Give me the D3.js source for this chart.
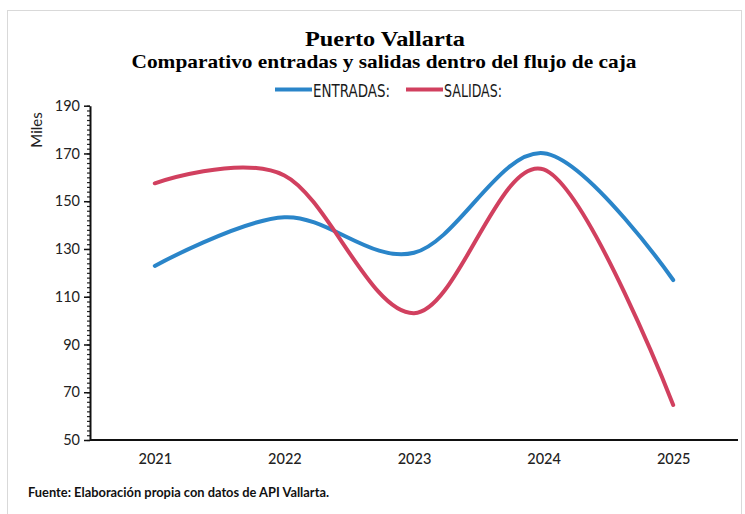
<!DOCTYPE html>
<html><head><meta charset="utf-8">
<script src="https://cdn.jsdelivr.net/npm/d3@7"></script>
<style>body{margin:0;background:#fff}svg{display:block}</style>
</head><body>
<script>
const years = ["2021","2022","2023","2024","2025"];
const entradas = [122.9,143.3,128.4,170.1,117.0];
const salidas = [157.5,160.8,103.1,163.3,64.7];
const yTicks = [50,70,90,110,130,150,170,190];
const seriesNames = ["ENTRADAS:","SALIDAS:"];
const colors = ["#2a85c9","#d1405f"];

const W=745,H=514;
const svg=d3.select("body").append("svg").attr("width",W).attr("height",H);
svg.append("rect").attr("x",7.5).attr("y",10.5).attr("width",734).attr("height",520)
  .attr("fill","#fff").attr("stroke","#d9d9d9").attr("stroke-width",1);

const x=d3.scalePoint().domain(years).range([90,738]).padding(0.5);
const y=d3.scaleLinear().domain([50,190]).range([440,105.7]);

// titles
svg.append("text").attr("x",385).attr("y",46).attr("text-anchor","middle")
  .attr("font-family","Liberation Serif").attr("font-weight","bold").attr("font-size",22)
  .attr("textLength",160).attr("lengthAdjust","spacingAndGlyphs").text("Puerto Vallarta");
svg.append("text").attr("x",384).attr("y",67.5).attr("text-anchor","middle")
  .attr("font-family","Liberation Serif").attr("font-weight","bold").attr("font-size",19)
  .attr("textLength",505).attr("lengthAdjust","spacingAndGlyphs").text("Comparativo entradas y salidas dentro del flujo  de caja");

// legend
const leg=[{x1:275,x2:312,tx:313,tw:77},{x1:406,x2:443,tx:444,tw:58}];
leg.forEach((l,i)=>{
  svg.append("line").attr("x1",l.x1).attr("x2",l.x2).attr("y1",89.5).attr("y2",89.5)
    .attr("stroke",colors[i]).attr("stroke-width",4);
  svg.append("text").attr("x",l.tx).attr("y",96.5).attr("font-family","Liberation Sans Narrow, DejaVu Sans Condensed, sans-serif")
    .attr("font-size",17.5).attr("fill","#1a1a1a").attr("textLength",l.tw).attr("lengthAdjust","spacingAndGlyphs").text(seriesNames[i]);
});

// y axis minor ticks
const minor=svg.append("g").attr("transform","translate(90,0)")
  .call(d3.axisLeft(y).tickValues(d3.range(50,191,2)).tickSize(3).tickFormat(""));
minor.select(".domain").remove();
minor.selectAll("line").attr("stroke","#222").attr("stroke-width",1.2);
// y axis major
const ya=svg.append("g").attr("transform","translate(90,0)")
  .call(d3.axisLeft(y).tickValues(yTicks).tickSize(6).tickSizeOuter(0).tickPadding(4));
ya.select(".domain").attr("stroke","#111").attr("stroke-width",2);
ya.selectAll(".tick line").attr("stroke","#111").attr("stroke-width",1.5);
ya.selectAll("text").attr("font-family","Lato, sans-serif").attr("font-size",14.5).attr("fill","#222");

// x axis
const xa=svg.append("g").attr("transform","translate(0,440)")
  .call(d3.axisBottom(x).tickSize(0).tickSizeOuter(0).tickPadding(14));
xa.select(".domain").attr("d",`M${x.range()[0]},0H${x.range()[1]}`).attr("stroke","#111").attr("stroke-width",2);
xa.selectAll("text").attr("font-family","Lato, sans-serif").attr("font-size",14.5).attr("font-weight",500).attr("fill","#222");

// y label
svg.append("text").attr("transform","translate(42,130) rotate(-90)").attr("text-anchor","middle")
  .attr("font-family","Lato, sans-serif").attr("font-size",15).attr("fill","#222").text("Miles");

// lines
const line=d3.line().x((d,i)=>x(years[i])).y(d=>y(d)).curve(d3.curveCardinal.tension(0));
[entradas,salidas].forEach((s,i)=>{
  svg.append("path").datum(s).attr("d",line).attr("fill","none")
    .attr("stroke",colors[i]).attr("stroke-width",4).attr("stroke-linecap","round");
});

// source
svg.append("text").attr("x",28).attr("y",497).attr("font-family","Lato, sans-serif")
  .attr("font-weight","bold").attr("font-size",13.5).attr("fill","#111")
  .attr("textLength",301).attr("lengthAdjust","spacingAndGlyphs")
  .text("Fuente: Elaboración propia con datos de API Vallarta.");
</script>
</body></html>
